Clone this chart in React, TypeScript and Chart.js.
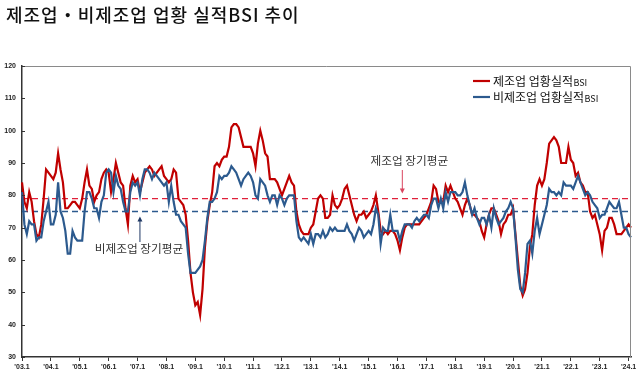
import React, { useEffect, useRef } from 'react';
import { Chart, registerables } from 'chart.js';

Chart.register(...registerables);

// ---- data (monthly, 2003.1 ~ 2024.2) ----
const START_YEAR = 2003;

const mfgBSI = [
  84, 78, 76, 81, 78, 72, 68, 67, 71, 79, 88, 87, // 2003
  86, 85, 87, 93, 88, 84, 76, 76, 77, 78, 78, 77, // 2004
  76, 79, 84, 88, 83, 82, 78, 80, 81, 85, 87, 88, // 2005
  87, 81, 85, 90, 87, 84, 83, 76, 71, 83, 86, 84, // 2006
  85, 81, 84, 87, 88, 89, 88, 86, 87, 88, 89, 86, // 2007
  85, 84, 85, 88, 87, 79, 78, 77, 74, 66, 56, 50, // 2008
  46, 47, 43, 51, 64, 72, 77, 81, 89, 90, 89, 91, // 2009
  92, 92, 95, 101, 102, 102, 101, 98, 95, 95, 95, 95, // 2010
  93, 89, 96, 100, 97, 93, 92, 85, 85, 85, 84, 82, // 2011
  80, 82, 84, 86, 84, 83, 75, 71, 69, 68, 68, 68, // 2012
  70, 71, 75, 79, 80, 79, 73, 73, 74, 80, 77, 76, // 2013
  77, 79, 82, 83, 80, 77, 74, 72, 74, 74, 75, 73, // 2014
  74, 75, 77, 80, 75, 69, 68, 69, 68, 69, 69, 68, // 2015
  66, 63, 67, 70, 71, 71, 71, 71, 71, 71, 72, 73, // 2016
  74, 76, 78, 83, 82, 78, 78, 78, 83, 81, 83, 81, // 2017
  79, 78, 76, 74, 77, 79, 77, 74, 74, 73, 72, 69, // 2018
  67, 71, 74, 76, 76, 74, 72, 68, 71, 72, 74, 74, // 2019
  76, 68, 60, 52, 49, 51, 56, 64, 68, 77, 83, 85, // 2020
  83, 85, 90, 96, 97, 98, 97, 95, 90, 90, 90, 95, // 2021
  91, 90, 86, 87, 84, 83, 81, 81, 75, 73, 74, 71, // 2022
  68, 63, 69, 70, 73, 73, 71, 68, 68, 68, 69, 70, // 2023
  71, 70, // 2024
];

const nonMfgBSI = [
  81, 71, 68, 72, 71, 71, 66, 67, 67, 72, 75, 78, // 2003
  71, 71, 74, 84, 75, 73, 69, 62, 62, 69, 67, 66, // 2004
  66, 66, 75, 81, 81, 79, 76, 76, 73, 78, 80, 87, // 2005
  88, 87, 81, 86, 83, 82, 78, 75, 75, 81, 84, 83, // 2006
  84, 80, 85, 88, 88, 87, 85, 87, 86, 85, 84, 83, // 2007
  84, 78, 83, 78, 74, 74, 72, 71, 70, 62, 56, 56, // 2008
  56, 57, 58, 60, 66, 73, 78, 78, 79, 81, 86, 85, // 2009
  86, 86, 87, 89, 88, 87, 85, 83, 85, 86, 87, 86, // 2010
  84, 80, 79, 85, 84, 83, 80, 78, 80, 80, 77, 80, // 2011
  79, 77, 79, 80, 80, 80, 72, 67, 66, 67, 66, 65, // 2012
  68, 65, 68, 68, 67, 69, 67, 68, 70, 69, 70, 69, // 2013
  69, 69, 69, 71, 69, 68, 66, 68, 70, 69, 67, 68, // 2014
  69, 68, 71, 76, 74, 65, 70, 69, 69, 74, 69, 69, // 2015
  69, 66, 69, 71, 71, 71, 70, 72, 73, 72, 73, 74, // 2016
  74, 73, 77, 79, 79, 76, 79, 76, 81, 78, 81, 81, // 2017
  81, 80, 80, 81, 84, 80, 77, 74, 76, 73, 71, 73, // 2018
  73, 71, 74, 70, 76, 73, 71, 72, 73, 75, 76, 78, // 2019
  76, 67, 57, 51, 50, 56, 65, 66, 62, 69, 73, 68, // 2020
  71, 74, 77, 82, 81, 81, 80, 81, 80, 84, 83, 83, // 2021
  83, 82, 84, 86, 84, 82, 80, 81, 80, 78, 77, 76, // 2022
  73, 74, 74, 76, 78, 77, 76, 76, 78, 74, 70, 70, // 2023
  68, 67, // 2024
];

const mfgAvg = 79;
const nonMfgAvg = 75;

const monthLabels = mfgBSI.map((_, i) => {
  const yr = (START_YEAR + Math.floor(i / 12)) % 100;
  return `'${String(yr).padStart(2, '0')}.${(i % 12) + 1}`;
});

const TITLE = '제조업・비제조업 업황 실적BSI 추이';
const LEGEND_MFG = '제조업 업황실적';
const LEGEND_NON = '비제조업 업황실적';
const ANNOT_MFG = '제조업 장기평균';
const ANNOT_NON = '비제조업 장기평균';

const RED = '#C00000';
const BLUE = '#2C5A8E';
const KFONT = '"Noto Sans CJK KR", "Noto Sans", sans-serif';

function arrow(ctx: CanvasRenderingContext2D, x: number, y0: number, y1: number, color: string) {
  const dir = y1 > y0 ? 1 : -1;
  ctx.strokeStyle = color;
  ctx.fillStyle = color;
  ctx.lineWidth = 1;
  ctx.beginPath();
  ctx.moveTo(x, y0);
  ctx.lineTo(x, y1 - dir * 4);
  ctx.stroke();
  ctx.beginPath();
  ctx.moveTo(x, y1);
  ctx.lineTo(x - 2.5, y1 - dir * 5);
  ctx.lineTo(x + 2.5, y1 - dir * 5);
  ctx.closePath();
  ctx.fill();
}

const overlay = {
  id: 'overlay',
  afterDraw(chart: any) {
    const { ctx, chartArea: ca, scales } = chart;
    const xs = scales.x;
    const ys = scales.y;
    ctx.save();

    // top / right frame
    ctx.strokeStyle = '#8a8a8a';
    ctx.lineWidth = 1;
    ctx.beginPath();
    ctx.moveTo(ca.left, ca.top + 0.5);
    ctx.lineTo(ca.right - 0.5, ca.top + 0.5);
    ctx.lineTo(ca.right - 0.5, ca.bottom);
    ctx.stroke();

    // small inside y ticks
    ctx.strokeStyle = '#333';
    for (let v = 30; v <= 120; v += 10) {
      const py = Math.round(ys.getPixelForValue(v)) + 0.5;
      ctx.beginPath();
      ctx.moveTo(ca.left, py);
      ctx.lineTo(ca.left + 3, py);
      ctx.stroke();
    }

    // title
    ctx.fillStyle = '#111';
    ctx.textAlign = 'left';
    ctx.textBaseline = 'middle';
    ctx.font = `500 18px ${KFONT}`;
    try {
      (ctx as any).letterSpacing = '1px';
    } catch (e) {
      /* ignore */
    }
    ctx.fillText(TITLE, 6, 15);
    try {
      (ctx as any).letterSpacing = '0px';
    } catch (e) {
      /* ignore */
    }

    // legend
    const drawLegend = (y: number, color: string, txt: string) => {
      ctx.strokeStyle = color;
      ctx.lineWidth = 2.2;
      ctx.beginPath();
      ctx.moveTo(473, y);
      ctx.lineTo(490, y);
      ctx.stroke();
      ctx.fillStyle = '#111';
      ctx.font = `12px ${KFONT}`;
      ctx.textBaseline = 'middle';
      ctx.fillText(txt, 493, y);
      const w = ctx.measureText(txt).width;
      ctx.font = `9px ${KFONT}`;
      ctx.fillText('BSI', 493 + w + 0.5, y + 2);
    };
    drawLegend(81, RED, LEGEND_MFG);
    drawLegend(97, BLUE, LEGEND_NON);

    // annotations
    ctx.font = `11.7px ${KFONT}`;
    ctx.fillStyle = '#333';
    ctx.textAlign = 'center';
    ctx.textBaseline = 'middle';
    const ax1 = xs.getPixelForValue(158);
    ctx.fillText(ANNOT_MFG, ax1 + 7, 161);
    arrow(ctx, ax1, 170, ys.getPixelForValue(mfgAvg) - 5, '#D9455F');

    const ax2 = xs.getPixelForValue(49);
    ctx.fillStyle = '#333';
    ctx.fillText(ANNOT_NON, ax2 - 1, 249);
    arrow(ctx, ax2, 242, ys.getPixelForValue(nonMfgAvg) + 5, '#1F3864');

    ctx.restore();
  },
};

export default function App() {
  const ref = useRef<HTMLCanvasElement | null>(null);

  useEffect(() => {
    if (!ref.current) return;
    const tickFont = { family: 'Arial, "Liberation Sans", sans-serif', size: 7, weight: 'bold' as const };
    const chart = new Chart(ref.current, {
      type: 'line',
      data: {
        labels: monthLabels,
        datasets: [
          {
            label: LEGEND_MFG + 'BSI',
            data: mfgBSI,
            borderColor: RED,
            borderWidth: 2.2,
            pointRadius: 0,
            tension: 0,
            order: 1,
          },
          {
            label: LEGEND_NON + 'BSI',
            data: nonMfgBSI,
            borderColor: BLUE,
            borderWidth: 2.2,
            pointRadius: 0,
            tension: 0,
            order: 0,
          },
          {
            label: ANNOT_MFG,
            data: mfgBSI.map(() => mfgAvg),
            borderColor: '#E0203A',
            borderWidth: 1.3,
            borderDash: [6, 4],
            pointRadius: 0,
            order: 3,
          },
          {
            label: ANNOT_NON,
            data: nonMfgBSI.map(() => nonMfgAvg),
            borderColor: '#2C5A8E',
            borderWidth: 1.3,
            borderDash: [6, 4],
            pointRadius: 0,
            order: 2,
          },
        ],
      },
      options: {
        animation: false,
        responsive: false,
        devicePixelRatio: 1,
        layout: { padding: { left: 0, right: 9, top: 66, bottom: 0 } },
        plugins: {
          legend: { display: false },
          title: { display: false },
          tooltip: { enabled: false },
        },
        scales: {
          x: {
            type: 'category',
            offset: false,
            grid: {
              display: true,
              drawOnChartArea: false,
              drawTicks: true,
              tickLength: 4,
              color: (c: any) => (c.index % 12 === 0 ? '#333' : 'rgba(0,0,0,0)'),
            },
            border: { display: true, color: '#333', width: 1.5 },
            ticks: {
              autoSkip: false,
              maxRotation: 0,
              minRotation: 0,
              padding: 2,
              color: '#222',
              font: tickFont,
              callback: (_v: any, i: number) => (i % 12 === 0 ? monthLabels[i] : ''),
            },
            afterFit: (s: any) => {
              s.height = 26;
            },
          },
          y: {
            min: 30,
            max: 120,
            grid: { display: false, drawTicks: false },
            border: { display: true, color: '#333', width: 1.5 },
            ticks: {
              stepSize: 10,
              padding: 6,
              color: '#222',
              font: tickFont,
            },
            afterFit: (s: any) => {
              s.width = 22;
            },
          },
        },
      },
      plugins: [overlay],
    });
    return () => chart.destroy();
  }, []);

  return (
    <div style={{ position: 'absolute', left: 0, top: 0, width: 640, height: 383, background: '#fff' }}>
      <canvas ref={ref} width={640} height={383} />
    </div>
  );
}
